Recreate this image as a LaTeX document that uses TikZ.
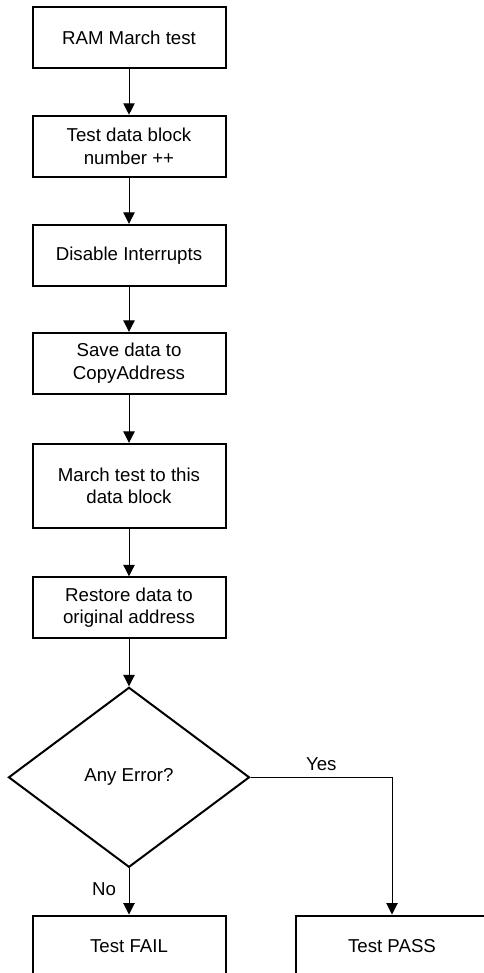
\documentclass[tikz,border=0pt]{standalone}
\usepackage{fontspec}
\setmainfont{Liberation Sans}
\usetikzlibrary{shapes.geometric,arrows.meta}
\tikzset{
    stepbox/.style = {draw, line width = 1.5pt, minimum width = 144.75pt, minimum height = 45.75pt,
        align = center, inner sep = 0pt, font = \fontsize{14pt}{17pt}\selectfont},
    decision/.style = {draw, diamond, line width = 1.5pt, minimum width = 180.75pt, minimum height = 135pt,
        inner sep = 0pt, font = \fontsize{14pt}{17pt}\selectfont},
    flow/.style = {line width = 0.75pt, -{Triangle[width = 8.5pt, length = 8.5pt]}},
    tag/.style = {font = \fontsize{14pt}{17pt}\selectfont}
}
\begin{document}
\begin{tikzpicture}[x = 0.75pt, y = -0.75pt]
        \useasboundingbox (0, 0) rectangle (483, 973);
        \node[stepbox] (march) at (129, 37.8) {RAM March test};
        \node[stepbox] (block) at (129, 146.2) {Test data block\\number ++};
        \node[stepbox] (irq) at (129, 255.3) {Disable Interrupts};
        \node[stepbox] (save) at (129, 363.3) {Save data to\\CopyAddress};
        \node[stepbox, minimum height = 63pt] (run) at (129, 485.8) {March test to this\\data block};
        \node[stepbox] (restore) at (129, 607.8) {Restore data to\\original address};
        \node[decision] (err) at (129, 777.3) {Any Error?};
        \node[stepbox] (fail) at (129, 946) {Test FAIL};
        \node[stepbox] (pass) at (392, 946) {Test PASS};
        \coordinate (turn) at (pass.north |- err.east);

        \draw[flow] (march) -- (block);
        \draw[flow] (block) -- (irq);
        \draw[flow] (irq) -- (save);
        \draw[flow] (save) -- (run);
        \draw[flow] (run) -- (restore);
        \draw[flow] (restore) -- (err);
        \draw[flow] (err) -- node[tag, left = 6pt, pos = 0.45] {No} (fail);
        \draw[flow] (err.east) -- node[tag, above = 1pt, pos = 0.5] {Yes} (turn) -- (pass);

    \end{tikzpicture}
\end{document}
